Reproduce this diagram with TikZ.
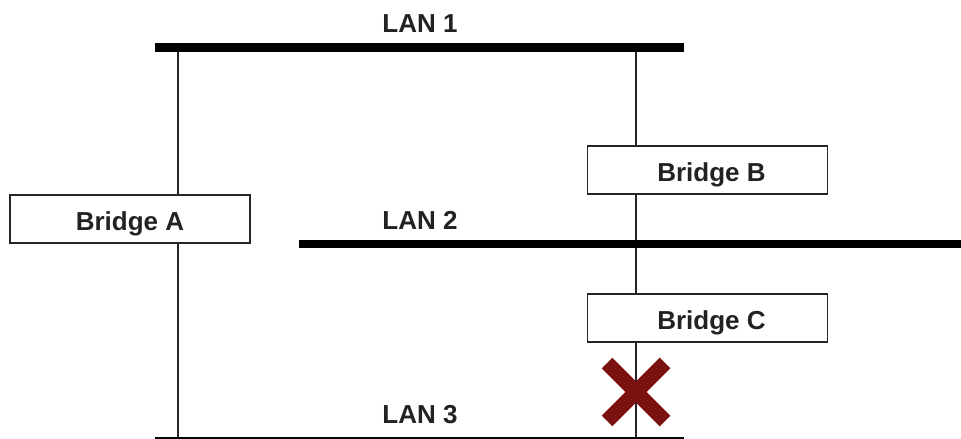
\documentclass[tikz,border=0pt]{standalone}
\usepackage{fontspec}
\setmainfont{Liberation Sans}
\usetikzlibrary{calc}
\definecolor{txt}{HTML}{222222}
\definecolor{xred}{HTML}{7A1212}
\begin{document}
\begin{tikzpicture}[x=1pt,y=-1pt,
  lan/.style={line width=8.5pt,black},
  wire/.style={line width=2pt,black!85},
  bridgebox/.style={draw=black!85,line width=1.6pt,fill=white,minimum width=240pt,minimum height=48pt,inner sep=0pt,text height=22.6pt,text depth=0pt,font=\fontsize{26}{30}\selectfont\bfseries,text=txt},
  lanlabel/.style={font=\fontsize{26}{30}\selectfont\bfseries,text=txt,inner sep=0pt}]
\useasboundingbox (0,0) rectangle (961,439);
% LAN bars
\coordinate (l1a) at (155,47.5);
\coordinate (l1b) at (684,47.5);
\coordinate (l2a) at (299,244);
\coordinate (l2b) at (961,244);
\coordinate (l3a) at (155,441);
\coordinate (l3b) at (684,441);
\coordinate (a1) at (178,47.5);
\coordinate (a3) at (178,441);
\coordinate (b1) at (636,47.5);
\coordinate (b3) at (636,441);
% bridges
\node[bridgebox] (A) at (130,219) {Bridge A};
\node[bridgebox] (B) at (707.5,170) {\kern8pt Bridge B};
\node[bridgebox] (C) at (707.5,318) {\kern8pt Bridge C};
% wires
\draw[wire] (a1) -- (a3);
\draw[wire] (b1) -- (B.north -| b1);
\draw[wire] (B.south -| b1) -- (C.north -| b1);
\draw[wire] (C.south -| b1) -- (b3);
\draw[lan] (l1a) -- (l1b);
\draw[lan] (l2a) -- (l2b);
\draw[lan] (l3a) -- (l3b);
% redraw boxes on top
\node[bridgebox] at (A) {Bridge A};
\node[bridgebox] at (B) {\kern8pt Bridge B};
\node[bridgebox] at (C) {\kern8pt Bridge C};
% labels
\node[lanlabel] (L1) at (420,24) {LAN 1};
\node[lanlabel] (L2) at (420,220) {LAN 2};
\node[lanlabel] (L3) at (420,415) {LAN 3};
% blocked mark
\coordinate (x0) at (636,392);
\draw[xred,line width=15pt] ($(x0)+(-29,-29)$) -- ($(x0)+(29,29)$);
\draw[xred,line width=15pt] ($(x0)+(29,-29)$) -- ($(x0)+(-29,29)$);
\end{tikzpicture}
\end{document}
